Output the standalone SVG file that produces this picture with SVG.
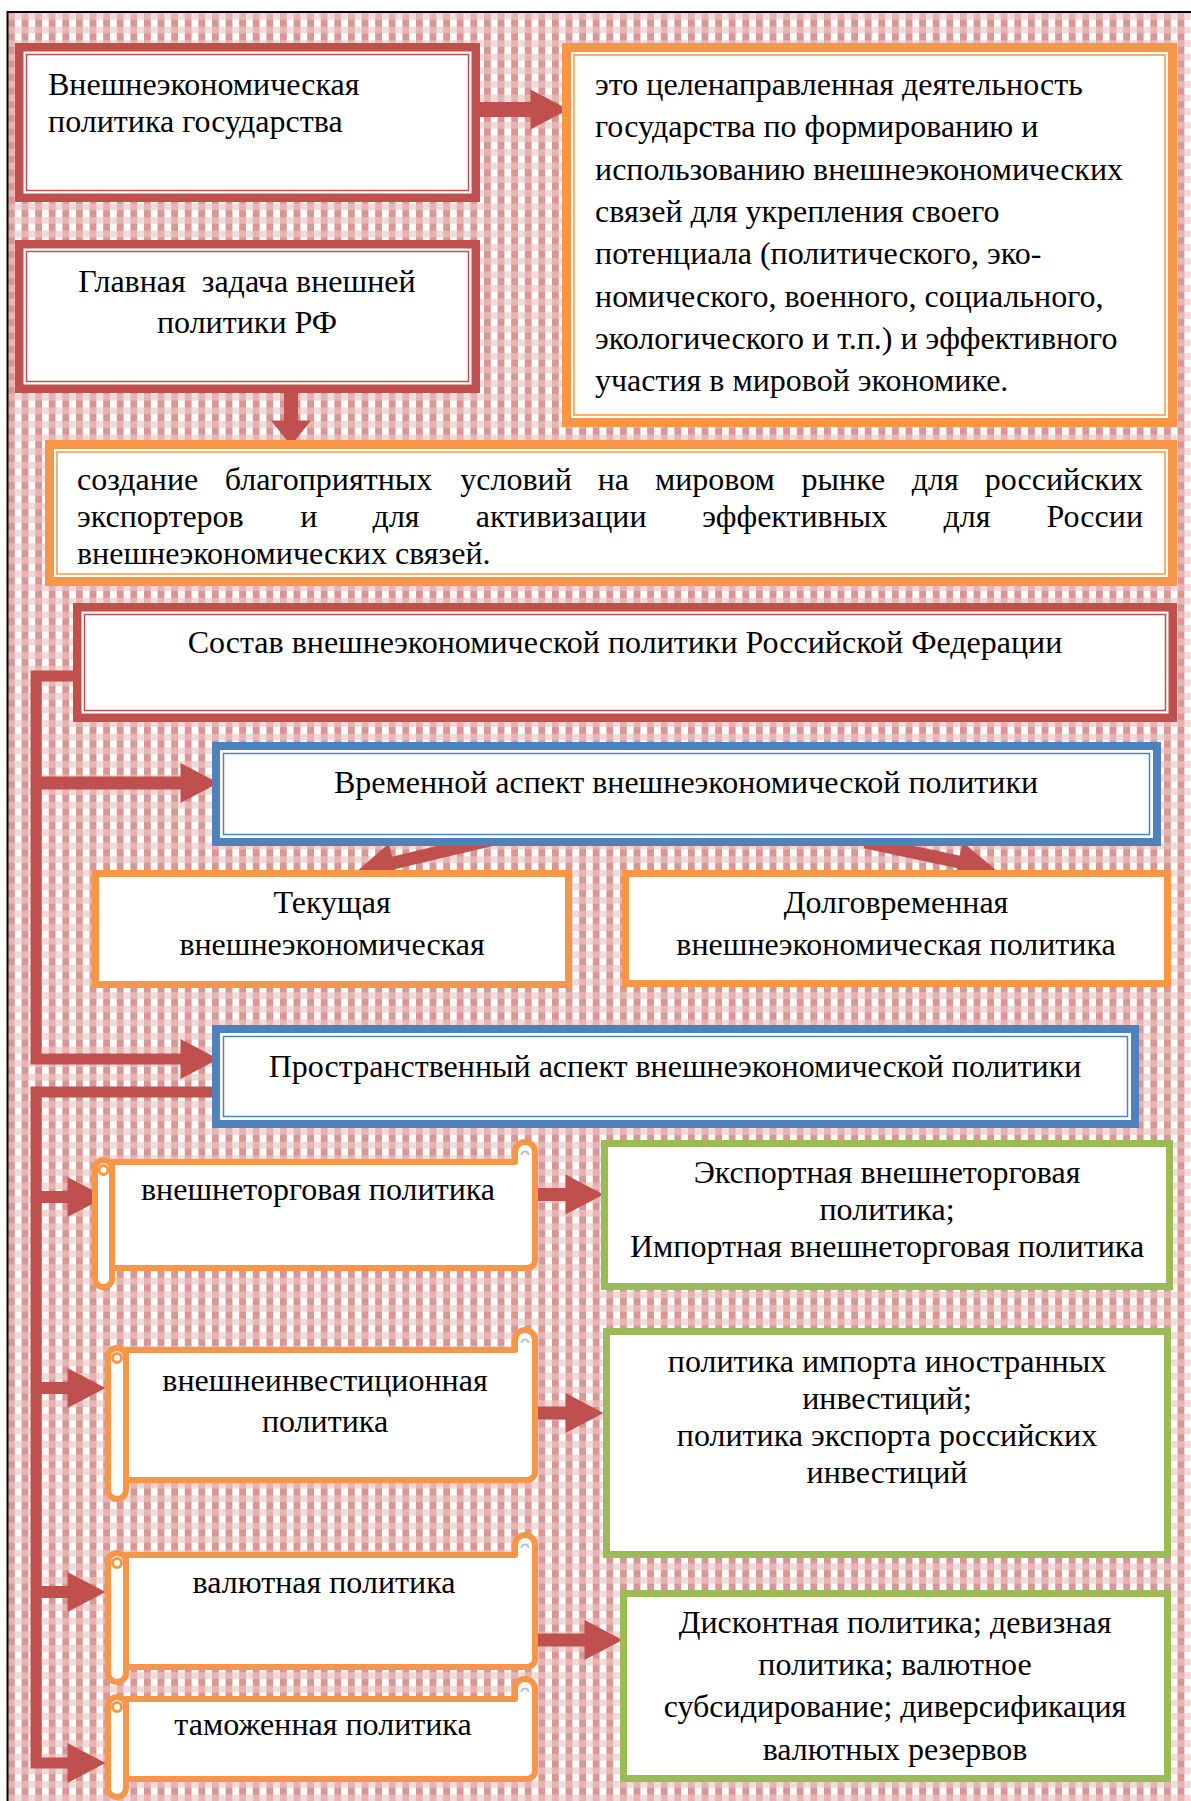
<svg xmlns="http://www.w3.org/2000/svg" width="1191" height="1801" viewBox="0 0 1191 1801">
<style>
.t{font-family:"Liberation Serif","Times New Roman",serif;font-size:32px;fill:#000}
.c{text-anchor:middle}
.e{text-anchor:end}
.rk{fill:#fff;stroke:#c0504d;stroke-width:8.5}
.rn{fill:none;stroke:#c0504d;stroke-width:1.5}
.ok{fill:#fff;stroke:#f79646;stroke-width:9}
.on{fill:none;stroke:#f79646;stroke-width:1.5}
.bk{fill:#fff;stroke:#4f81bd;stroke-width:8}
.bn{fill:none;stroke:#4f81bd;stroke-width:1.5}
.os{fill:#fff;stroke:#f79646;stroke-width:7}
.gs{fill:#fff;stroke:#9bbb59;stroke-width:7}
.sc{fill:#fff;stroke:#f79646;stroke-width:6;stroke-linejoin:round}
.cu{fill:#fff;stroke:#f79646;stroke-width:3}
.gr{fill:none;stroke:#bfbfbf;stroke-width:2}
.cn{fill:none;stroke:#c0504d;stroke-linejoin:miter}
</style>
<defs>
<pattern id="ging" width="13.6" height="13.6" patternUnits="userSpaceOnUse" x="8" y="13">
<rect width="13.6" height="13.6" fill="#fff"/>
<rect width="13.6" height="6.8" fill="#f3dad9"/>
<rect width="6.8" height="13.6" fill="#d99694"/>
<rect width="6.8" height="6.8" fill="#e5b5b4"/>
</pattern>
<marker id="ah" markerUnits="userSpaceOnUse" markerWidth="40" markerHeight="40" refX="0.5" refY="20" orient="auto" overflow="visible">
<path d="M0,0 L38,20 L0,40 Z" fill="#c0504d"/>
</marker>
<marker id="ahs" markerUnits="userSpaceOnUse" markerWidth="26" markerHeight="40" refX="0.5" refY="20" orient="auto" overflow="visible">
<path d="M0,0 L25,20 L0,40 Z" fill="#c0504d"/>
</marker>
</defs>

<rect x="0" y="0" width="1191" height="1801" fill="#fff"/>
<rect x="8" y="13" width="1183" height="1788" fill="url(#ging)"/>
<path d="M7.5,1801 V12 H1191" fill="none" stroke="#000" stroke-width="2"/>

<g id="connectors">
<path class="cn" d="M480,109.5 H531" stroke-width="15" marker-end="url(#ah)"/>
<path class="cn" d="M291,393 V421" stroke-width="14" marker-end="url(#ahs)"/>
<path class="cn" d="M75,676 H36 V1059 H181" stroke-width="11" marker-end="url(#ah)"/>
<path class="cn" d="M36,783 H181" stroke-width="13" marker-end="url(#ah)"/>
<path class="cn" d="M490,840 L393,863" stroke-width="13" marker-end="url(#ah)"/>
<path class="cn" d="M865,842 L959,862" stroke-width="13" marker-end="url(#ah)"/>
<path class="cn" d="M218,1092 H36 V1763 H68" stroke-width="11" marker-end="url(#ah)"/>
<path class="cn" d="M36,1197 H68" stroke-width="12" marker-end="url(#ah)"/>
<path class="cn" d="M36,1388 H68" stroke-width="12" marker-end="url(#ah)"/>
<path class="cn" d="M36,1592 H68" stroke-width="12" marker-end="url(#ah)"/>
<path class="cn" d="M530,1194.5 H566" stroke-width="13" marker-end="url(#ah)"/>
<path class="cn" d="M530,1413 H566" stroke-width="13" marker-end="url(#ah)"/>
<path class="cn" d="M530,1640 H585" stroke-width="13" marker-end="url(#ah)"/>
</g>

<g id="box-policy">
<rect class="rk" x="19.25" y="47.25" width="456.5" height="150.5"/>
<rect class="rn" x="26.5" y="54.5" width="442" height="136"/>
<text class="t" x="48" y="95">Внешнеэкономическая</text>
<text class="t" x="48" y="132">политика государства</text>
</g>

<g id="box-definition">
<rect class="ok" x="566.5" y="47.5" width="606" height="375"/>
<rect class="on" x="574" y="55" width="591" height="360"/>
<text class="t" x="595" y="95">это целенаправленная деятельность</text>
<text class="t" x="595" y="137.3">государства по формированию и</text>
<text class="t" x="595" y="179.6">использованию внешнеэкономических</text>
<text class="t" x="595" y="221.9">связей для укрепления своего</text>
<text class="t" x="595" y="264.2">потенциала (политического, эко-</text>
<text class="t" x="595" y="306.5">номического, военного, социального,</text>
<text class="t" x="595" y="348.8">экологического и т.п.) и эффективного</text>
<text class="t" x="595" y="391">участия в мировой экономике.</text>
</g>

<g id="box-task">
<rect class="rk" x="19.25" y="244.25" width="456.5" height="144.5"/>
<rect class="rn" x="26.5" y="251.5" width="442" height="130"/>
<text class="t c" x="247" y="292" xml:space="preserve">Главная  задача внешней</text>
<text class="t c" x="247" y="333">политики РФ</text>
</g>

<g id="box-goal">
<rect class="ok" x="49.5" y="444.5" width="1123" height="137"/>
<rect class="on" x="57" y="452" width="1108" height="122"/>
<text class="t" y="490"><tspan x="77">создание</tspan><tspan x="224.7">благоприятных</tspan><tspan x="460.3">условий</tspan><tspan x="597.7">на</tspan><tspan x="654.9">мировом</tspan><tspan x="801.5">рынке</tspan><tspan x="911.8">для</tspan></text>
<text class="t e" x="1143" y="490">российских</text>
<text class="t" y="527"><tspan x="77">экспортеров</tspan><tspan x="300.2">и</tspan><tspan x="372.6">для</tspan><tspan x="475.7">активизации</tspan><tspan x="702.3">эффективных</tspan><tspan x="943.4">для</tspan></text>
<text class="t e" x="1143" y="527">России</text>
<text class="t" x="77" y="564">внешнеэкономических связей.</text>
</g>

<g id="box-composition">
<rect class="rk" x="77.25" y="607.25" width="1095.5" height="110.5"/>
<rect class="rn" x="84.5" y="614.5" width="1081" height="96"/>
<text class="t c" x="625" y="653">Состав внешнеэкономической политики Российской Федерации</text>
</g>

<g id="box-time">
<rect class="bk" x="216" y="746" width="941" height="96"/>
<rect class="bn" x="223.5" y="753.5" width="926" height="81"/>
<text class="t c" x="686" y="793">Временной аспект внешнеэкономической политики</text>
</g>

<g id="box-current">
<rect class="os" x="95.5" y="873.5" width="473" height="111"/>
<text class="t c" x="332" y="913">Текущая</text>
<text class="t c" x="332" y="955">внешнеэкономическая</text>
</g>

<g id="box-longterm">
<rect class="os" x="625.5" y="873.5" width="542" height="110"/>
<text class="t c" x="896" y="913">Долговременная</text>
<text class="t c" x="896" y="955">внешнеэкономическая политика</text>
</g>

<g id="box-space">
<rect class="bk" x="216" y="1029" width="919" height="95"/>
<rect class="bn" x="223.5" y="1036.5" width="904" height="80"/>
<text class="t c" x="675" y="1077">Пространственный аспект внешнеэкономической политики</text>
</g>

<g id="scroll-trade">
<path class="sc" d="M112,1162 H515 V1152 A10,10 0 0 1 535,1152 V1260 A8,8 0 0 1 527,1268 H112 Z"/>
<path class="gr" d="M521.5,1155 A3.5,3.5 0 1 1 528.5,1155"/>
<rect class="sc" x="95" y="1160" width="17" height="127" rx="8.5"/>
<circle class="cu" cx="103.5" cy="1170" r="4.5"/>
<text class="t c" x="318" y="1200">внешнеторговая политика</text>
</g>

<g id="scroll-invest">
<path class="sc" d="M126,1350 H515 V1340 A10,10 0 0 1 535,1340 V1472 A8,8 0 0 1 527,1480 H126 Z"/>
<path class="gr" d="M521.5,1343 A3.5,3.5 0 1 1 528.5,1343"/>
<rect class="sc" x="108" y="1348" width="18" height="151" rx="9"/>
<circle class="cu" cx="117" cy="1358" r="4.5"/>
<text class="t c" x="325" y="1391">внешнеинвестиционная</text>
<text class="t c" x="325" y="1432">политика</text>
</g>

<g id="scroll-currency">
<path class="sc" d="M126,1555 H515 V1545 A10,10 0 0 1 535,1545 V1659 A8,8 0 0 1 527,1667 H126 Z"/>
<path class="gr" d="M521.5,1548 A3.5,3.5 0 1 1 528.5,1548"/>
<rect class="sc" x="108" y="1553" width="18" height="129" rx="9"/>
<circle class="cu" cx="117" cy="1563" r="4.5"/>
<text class="t c" x="324" y="1593">валютная политика</text>
</g>

<g id="scroll-customs">
<path class="sc" d="M126,1699 H515 V1689 A10,10 0 0 1 535,1689 V1771 A8,8 0 0 1 527,1779 H126 Z"/>
<path class="gr" d="M521.5,1692 A3.5,3.5 0 1 1 528.5,1692"/>
<rect class="sc" x="108" y="1697" width="18" height="100" rx="9"/>
<circle class="cu" cx="117" cy="1707" r="4.5"/>
<text class="t c" x="323" y="1735">таможенная политика</text>
</g>

<g id="box-trade-types">
<rect class="gs" x="604.5" y="1143.5" width="565" height="143"/>
<text class="t c" x="887" y="1183">Экспортная внешнеторговая</text>
<text class="t c" x="887" y="1220">политика;</text>
<text class="t c" x="887" y="1257">Импортная внешнеторговая политика</text>
</g>

<g id="box-invest-types">
<rect class="gs" x="606.5" y="1331.5" width="561" height="223"/>
<text class="t c" x="887" y="1372">политика импорта иностранных</text>
<text class="t c" x="887" y="1409">инвестиций;</text>
<text class="t c" x="887" y="1446">политика экспорта российских</text>
<text class="t c" x="887" y="1483">инвестиций</text>
</g>

<g id="box-currency-types">
<rect class="gs" x="623.5" y="1593.5" width="544" height="185"/>
<text class="t c" x="895" y="1633">Дисконтная политика; девизная</text>
<text class="t c" x="895" y="1675">политика; валютное</text>
<text class="t c" x="895" y="1717">субсидирование; диверсификация</text>
<text class="t c" x="895" y="1760">валютных резервов</text>
</g>
</svg>
